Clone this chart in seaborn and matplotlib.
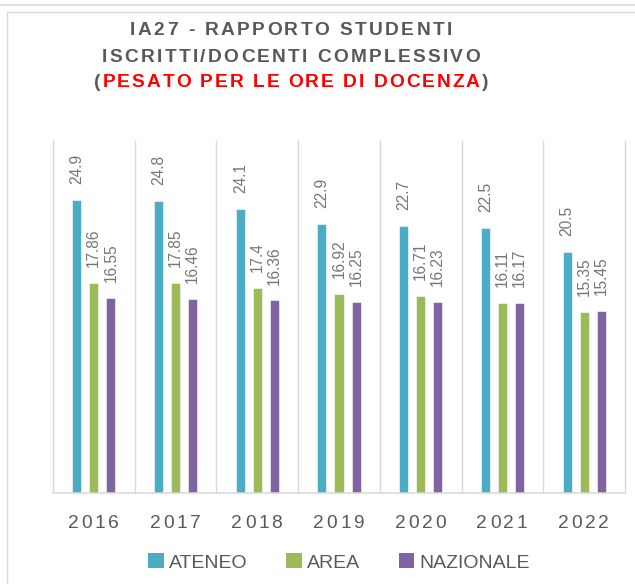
import numpy as np
import pandas as pd
import matplotlib
matplotlib.use("Agg")
import matplotlib.pyplot as plt
from matplotlib.transforms import IdentityTransform
from matplotlib.lines import Line2D
import seaborn as sns

# ---- data ----
years = ["2016", "2017", "2018", "2019", "2020", "2021", "2022"]
series = ["ATENEO", "AREA", "NAZIONALE"]
ateneo = [24.9, 24.8, 24.1, 22.9, 22.7, 22.5, 20.5]
area = [17.86, 17.85, 17.4, 16.92, 16.71, 16.11, 15.35]
nazionale = [16.55, 16.46, 16.36, 16.25, 16.23, 16.17, 15.45]
colors = ["#4BACC6", "#9BBB59", "#8064A2"]

title_lines = [
    [("IA27 - RAPPORTO STUDENTI", "#595959")],
    [("ISCRITTI/DOCENTI COMPLESSIVO", "#595959")],
    [("(", "#595959"), ("PESATO PER LE ORE DI DOCENZA", "#FF0000"), (")", "#595959")],
]

df = pd.DataFrame({
    "anno": years * 3,
    "serie": [s for s in series for _ in years],
    "valore": ateneo + area + nazionale,
})

sns.set_style("white")
plt.rcParams["font.family"] = ["Liberation Sans", "DejaVu Sans"]

W, H = 635, 584
fig = plt.figure(figsize=(W / 100, H / 100), dpi=100)
fig.patch.set_facecolor("white")
ax = fig.add_axes([53 / W, 1 - 493 / H, (625 - 53) / W, (493 - 140) / H])

sns.barplot(data=df, x="anno", y="valore", hue="serie", order=years,
            hue_order=series, palette=colors, saturation=1, width=0.625,
            gap=0.47, errorbar=None, edgecolor="white", linewidth=0.4, ax=ax)

ax.set_xlim(-0.5, len(years) - 0.5)
ax.set_ylim(0, 30)
ax.set_xlabel("")
ax.set_ylabel("")
ax.set_yticks([])
ax.set_xticks(range(len(years)))
ax.set_xticklabels([])
ax.tick_params(length=0)
for s in ["top", "left", "right"]:
    ax.spines[s].set_visible(False)
ax.spines["bottom"].set_color("#D9D9D9")
ax.spines["bottom"].set_linewidth(1.1)

ax.vlines(np.arange(-0.5, len(years), 1.0), 0, 30, color="#D9D9D9",
          lw=1.0, zorder=0, clip_on=False)

for cont in ax.containers:
    ax.bar_label(cont, fmt="{:g}", rotation=90, padding=11.5, fontsize=11.2,
                 color="#767676")

sns.move_legend(ax, "center", bbox_to_anchor=(0.5, (493 - 562.5) / 353),
                ncol=3, frameon=False, title=None, fontsize=14,
                handlelength=0.8, handleheight=0.8, handletextpad=0.25,
                columnspacing=2.0, labelcolor="#595959")
leg = ax.get_legend()
for hnd in leg.legend_handles:
    hnd.set_edgecolor("none")

renderer = fig.canvas.get_renderer()


def spaced_text(segments, x_left, x_right, y_img, size, weight="normal"):
    chars = [(c, col) for s, col in segments for c in s]
    fp = dict(fontsize=size, fontweight=weight)

    def w(s):
        t = fig.text(0, 0, s, **fp)
        bb = t.get_window_extent(renderer)
        t.remove()
        return bb.width

    base = w("HH")
    adv = [w("H" + c + "H") - base for c, _ in chars]
    sp = (x_right - x_left - sum(adv)) / max(len(chars) - 1, 1)
    x = x_left
    for (c, col), a in zip(chars, adv):
        if c != " ":
            fig.text(x, H - y_img, c, color=col, ha="left", va="baseline",
                     transform=IdentityTransform(), **fp)
        x += a + sp


# title
spaced_text(title_lines[0], 130, 452, 35, 13.8, "bold")
spaced_text(title_lines[1], 102, 480, 62, 13.8, "bold")
spaced_text(title_lines[2], 94, 488, 87, 13.8, "bold")

# category labels
for i, yr in enumerate(years):
    cx = ax.transData.transform((i, 0))[0]
    spaced_text([(yr, "#595959")], cx - 26, cx + 25, 528, 13.8)

# frame lines
fig.add_artist(Line2D([0, 1], [1 - 5 / H, 1 - 5 / H], color="#E3E3E3",
                      lw=1.5, transform=fig.transFigure))
fig.add_artist(Line2D([7 / W, 7 / W, 1], [0, 1 - 12 / H, 1 - 12 / H],
                      color="#D9D9D9", lw=1.0, transform=fig.transFigure))

fig.savefig("out.png", dpi=100)
